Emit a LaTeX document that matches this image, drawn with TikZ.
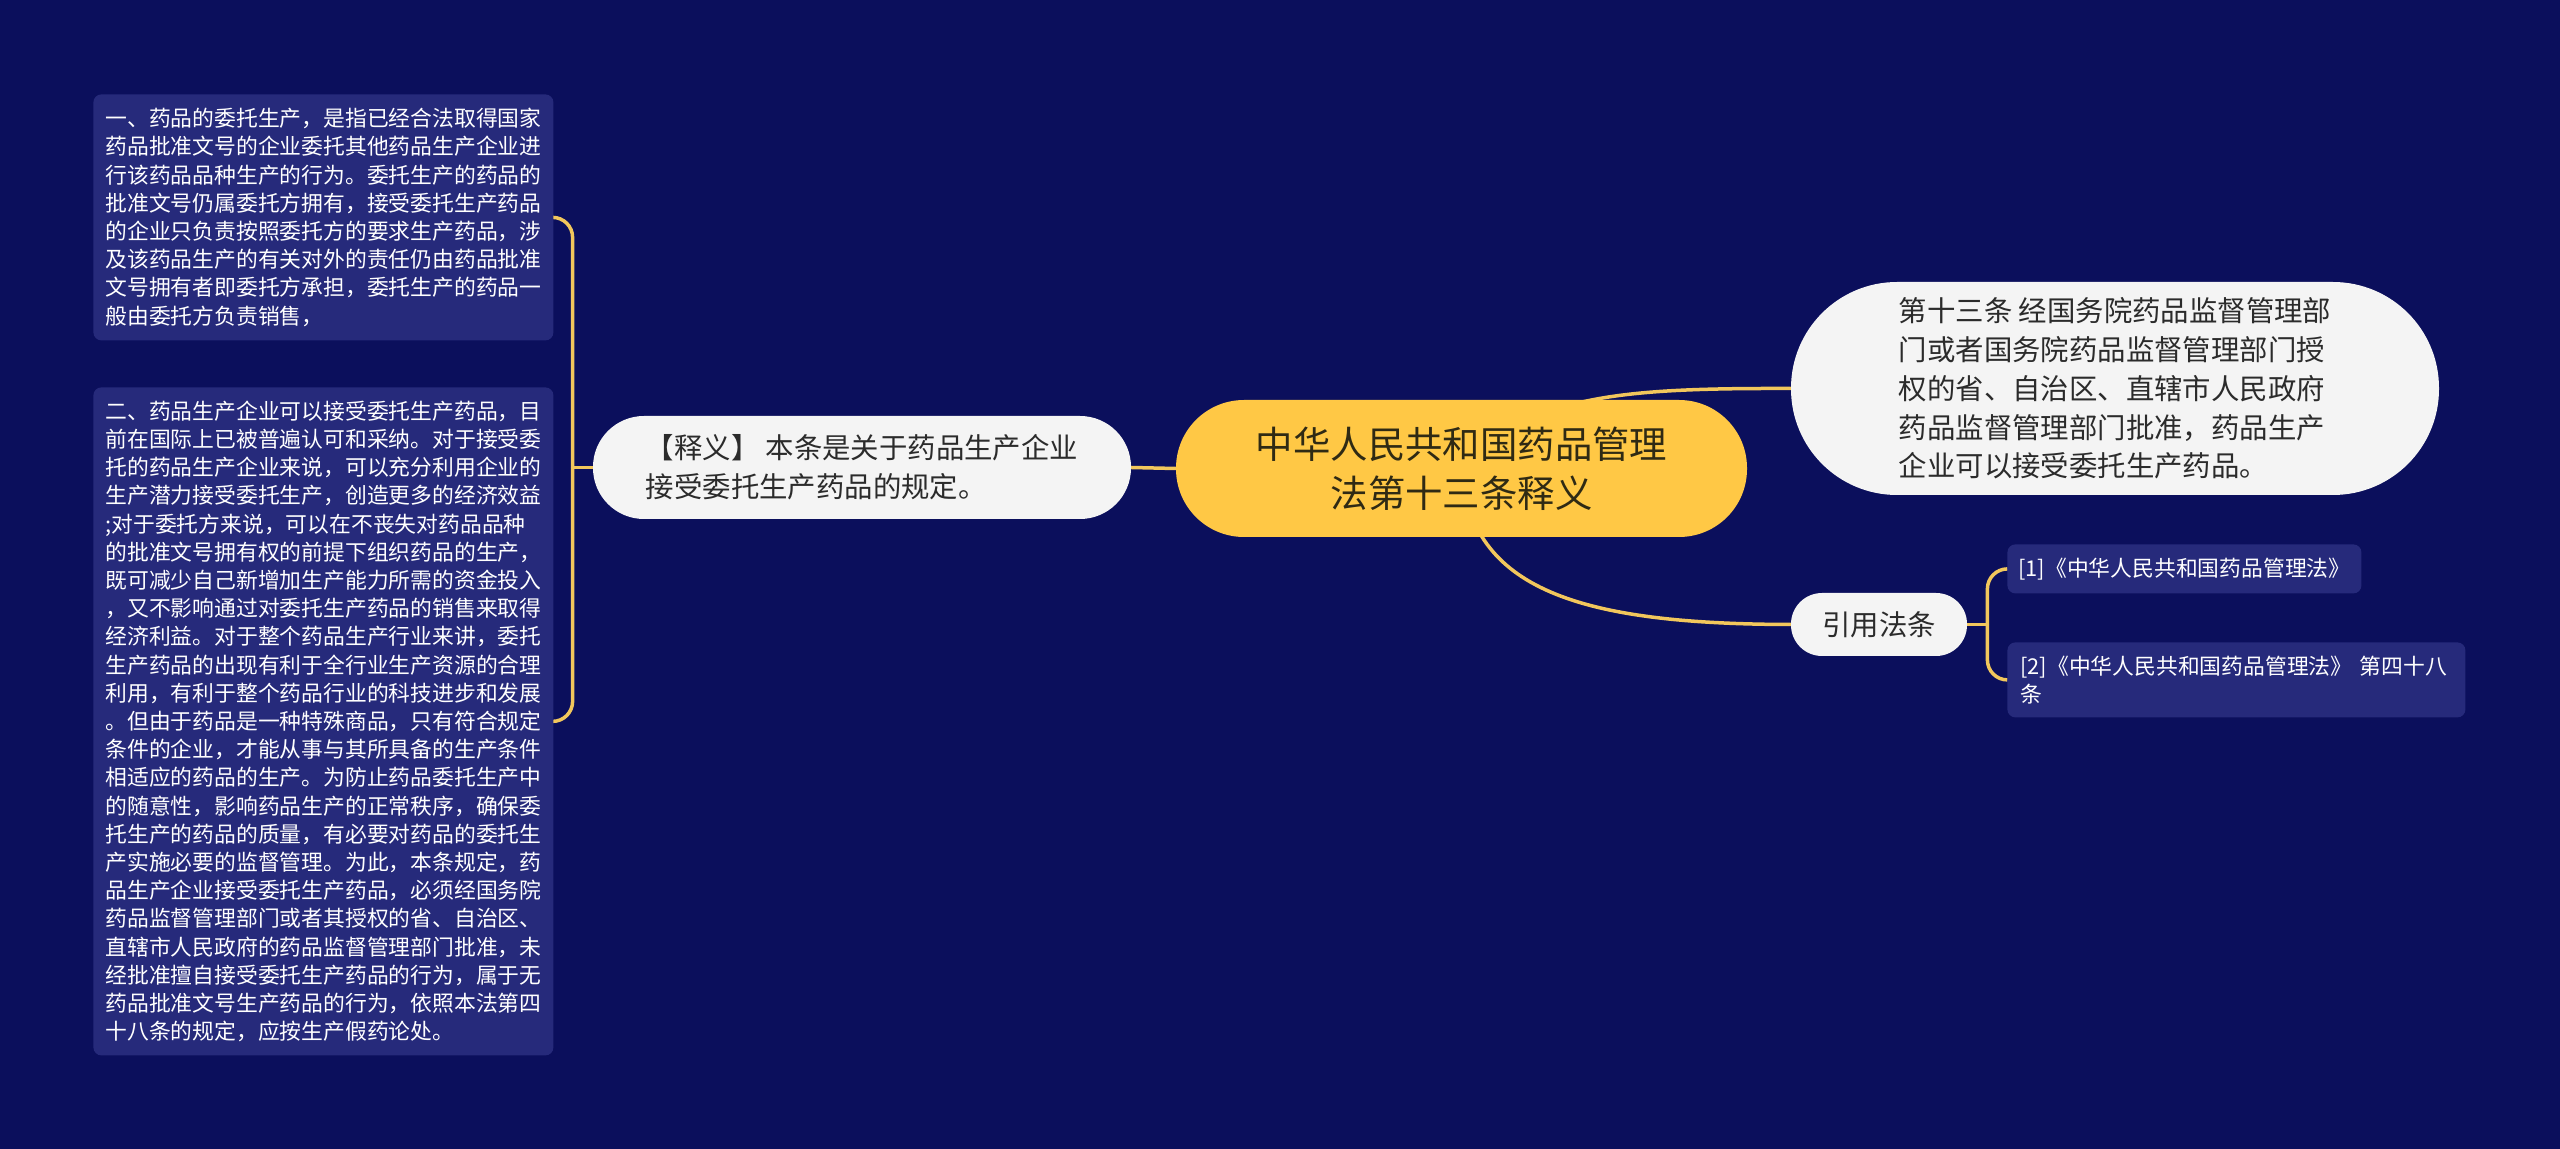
\documentclass[tikz,border=0pt]{standalone}
\usepackage{fontspec}
\newfontfamily\cjk{Noto Sans CJK SC}

\definecolor{navybg}{HTML}{0B0F5C}
\definecolor{leafblue}{HTML}{262A7B}
\definecolor{rootgold}{HTML}{FFC845}
\definecolor{linkgold}{HTML}{F2C75C}
\definecolor{paleleaf}{HTML}{F4F4F4}
\definecolor{inkgrey}{HTML}{2B2B2B}
\definecolor{rootink}{HTML}{2F2A14}

\pgfdeclarelayer{bg}
\pgfdeclarelayer{links}
\pgfsetlayers{bg,links,main}

\begin{document}
\begin{tikzpicture}[x=0.5pt,y=-0.5pt]

    % let's define some key values (pixels of the full picture)
    \def\picw{2560}
    \def\pich{1149}
    \def\xleaf{93}
    \def\xlaw{2007}

    % Styles
    \tikzstyle{link}=[draw=linkgold, line width=1.75pt, line cap=round]
    \tikzstyle{leafbox}=[fill=leafblue, text=white, rounded corners=4pt, inner xsep=6pt, inner ysep=0pt, align=left, font={\cjk\fontsize{10.9pt}{14.1pt}\selectfont}]
    \tikzstyle{pill}=[fill=paleleaf, text=inkgrey, align=left, inner sep=0pt, font={\cjk\fontsize{14.2pt}{19.4pt}\selectfont}]
    \tikzstyle{rootpill}=[fill=rootgold, text=rootink, align=center, inner sep=0pt, rounded corners=34pt, minimum width=285.5pt, minimum height=68.5pt, font={\cjk\fontsize{18.7pt}{24.5pt}\selectfont}]

    % page
    \useasboundingbox (0,0) rectangle (\picw,\pich);
    \begin{pgfonlayer}{bg}
    \fill[navybg] (0,0) rectangle (\picw,\pich);
    \end{pgfonlayer}

    % root
    \node[rootpill] (root) at (1461.5,468.5) {中华人民共和国药品管理\\法第十三条释义};

    % explanation
    \node[pill, rounded corners=25.5pt, minimum width=269pt, minimum height=51.5pt] (gloss) at (862,467.5) {【释义】 本条是关于药品生产企业\\接受委托生产药品的规定。};

    % article text
    \node[pill, rounded corners=53pt, minimum width=324pt, minimum height=106.5pt] (article) at (2115,388.5) {第十三条 经国务院药品监督管理部\\门或者国务院药品监督管理部门授\\权的省、自治区、直辖市人民政府\\药品监督管理部门批准，药品生产\\企业可以接受委托生产药品。};

    % cited laws
    \node[pill, rounded corners=15.5pt, minimum width=88pt, minimum height=31.5pt] (cite) at (1879,624.5) {引用法条};

    % left leaves
    \node[leafbox, anchor=north west, text width=218pt, minimum height=123pt] (entrust) at (\xleaf,94) {一、药品的委托生产，是指已经合法取得国家\\药品批准文号的企业委托其他药品生产企业进\\行该药品品种生产的行为。委托生产的药品的\\批准文号仍属委托方拥有，接受委托生产药品\\的企业只负责按照委托方的要求生产药品，涉\\及该药品生产的有关对外的责任仍由药品批准\\文号拥有者即委托方承担，委托生产的药品一\\般由委托方负责销售，};
    \node[leafbox, anchor=north west, text width=218pt, minimum height=334pt] (accept) at (\xleaf,387) {二、药品生产企业可以接受委托生产药品，目\\前在国际上已被普遍认可和采纳。对于接受委\\托的药品生产企业来说，可以充分利用企业的\\生产潜力接受委托生产，创造更多的经济效益\\;对于委托方来说，可以在不丧失对药品品种\\的批准文号拥有权的前提下组织药品的生产，\\既可减少自己新增加生产能力所需的资金投入\\，又不影响通过对委托生产药品的销售来取得\\经济利益。对于整个药品生产行业来讲，委托\\生产药品的出现有利于全行业生产资源的合理\\利用，有利于整个药品行业的科技进步和发展\\。但由于药品是一种特殊商品，只有符合规定\\条件的企业，才能从事与其所具备的生产条件\\相适应的药品的生产。为防止药品委托生产中\\的随意性，影响药品生产的正常秩序，确保委\\托生产的药品的质量，有必要对药品的委托生\\产实施必要的监督管理。为此，本条规定，药\\品生产企业接受委托生产药品，必须经国务院\\药品监督管理部门或者其授权的省、自治区、\\直辖市人民政府的药品监督管理部门批准，未\\经批准擅自接受委托生产药品的行为，属于无\\药品批准文号生产药品的行为，依照本法第四\\十八条的规定，应按生产假药论处。};

    % right leaves
    \node[leafbox, anchor=north west, text width=166pt, inner xsep=5.5pt, minimum height=24.5pt] (lawa) at (\xlaw,544) {[1]《中华人民共和国药品管理法》};
    \node[leafbox, anchor=north west, text width=216pt, inner xsep=6.5pt, minimum height=37.5pt] (lawb) at (\xlaw,642) {[2]《中华人民共和国药品管理法》~第四十八\\条};

    % forks
    \coordinate (leftfork) at ([xshift=-10pt]gloss.west);
    \coordinate (rightfork) at ([xshift=10pt]cite.east);

    % links
    \begin{pgfonlayer}{links}
    \draw[link] (root.west) -- (gloss.east);
    \draw[link] (gloss.west) -- (leftfork);
    \draw[link, rounded corners=10pt] (entrust.east) -| (leftfork) |- (accept.east);
    \draw[link] (root.center) .. controls (1530,395) and (1620,388) .. (article.west);
    \draw[link] (root.center) .. controls (1470,590) and (1580,624) .. (cite.west);
    \draw[link] (cite.east) -- (rightfork);
    \draw[link, rounded corners=10pt] (lawa.west) -| (rightfork) |- (lawb.west);
    \end{pgfonlayer}

\end{tikzpicture}
\end{document}
